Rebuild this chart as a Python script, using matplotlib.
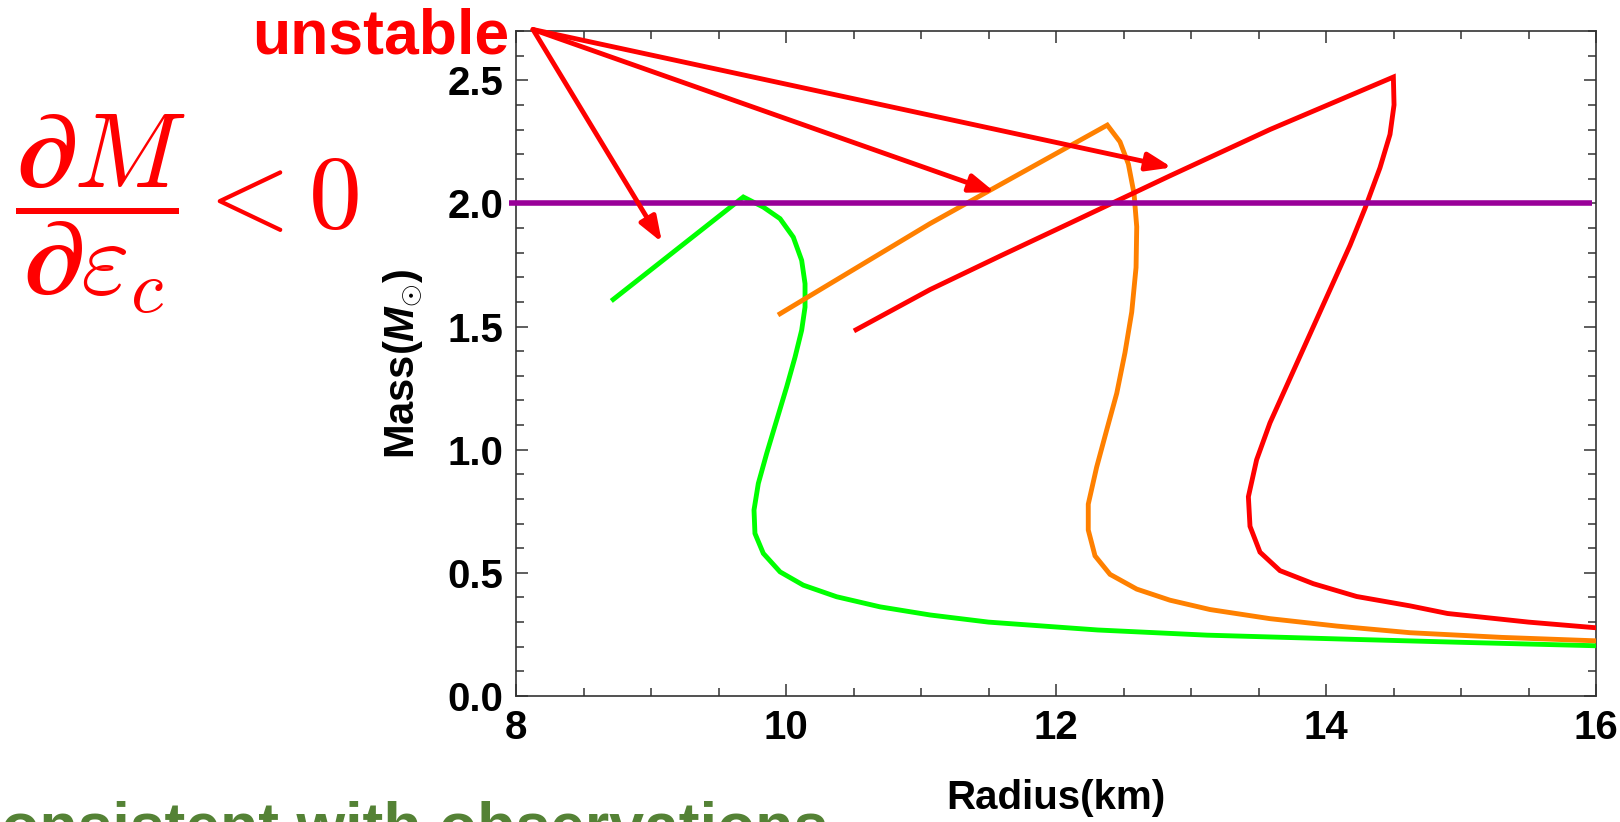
import matplotlib
matplotlib.use('Agg')
import matplotlib.pyplot as plt
from matplotlib.ticker import MultipleLocator, FormatStrFormatter

# ---------------- data ----------------
green_R = [8.72, 9.684, 9.832, 9.956, 10.054, 10.116, 10.141, 10.141, 10.116, 10.067, 10.005,
           9.931, 9.857, 9.795, 9.763, 9.770, 9.832, 9.956, 10.128, 10.375, 10.696, 11.067,
           11.50, 12.31, 13.12, 14.2, 15.0, 16.0]
green_M = [1.61, 2.026, 1.985, 1.938, 1.863, 1.769, 1.674, 1.579, 1.485, 1.376, 1.255,
           1.120, 0.985, 0.863, 0.755, 0.660, 0.579, 0.504, 0.450, 0.403, 0.362, 0.329,
           0.300, 0.268, 0.247, 0.230, 0.218, 0.204]

orange_R = [9.956, 11.067, 12.380, 12.474, 12.536, 12.578, 12.598, 12.593, 12.561, 12.511,
            12.450, 12.375, 12.301, 12.239, 12.239, 12.289, 12.400, 12.598, 12.844, 13.141,
            13.585, 14.079, 14.622, 15.3, 16.0]
orange_M = [1.552, 1.918, 2.318, 2.250, 2.160, 2.040, 1.905, 1.740, 1.559, 1.394,
            1.229, 1.079, 0.929, 0.779, 0.674, 0.569, 0.494, 0.434, 0.389, 0.351,
            0.314, 0.284, 0.257, 0.238, 0.224]

red_R = [10.519, 11.067, 11.60, 12.104, 12.844, 13.585, 14.499, 14.504, 14.474, 14.400,
         14.289, 14.178, 14.030, 13.881, 13.733, 13.585, 13.486, 13.425, 13.437, 13.511,
         13.659, 13.906, 14.227, 14.622, 14.90, 15.5, 16.0]
red_M = [1.487, 1.650, 1.790, 1.920, 2.112, 2.300, 2.513, 2.400, 2.280, 2.145,
         1.980, 1.830, 1.650, 1.469, 1.289, 1.109, 0.959, 0.809, 0.689, 0.584,
         0.509, 0.456, 0.404, 0.366, 0.335, 0.300, 0.277]

limit_R = [7.95, 15.97]
limit_M = 2.0

arrow_origin = (8.126, 2.706)
arrow_heads_R = [9.081, 11.548, 12.859]
arrow_heads_M = [1.842, 2.045, 2.146]

x_ticks = [8, 10, 12, 14, 16]
y_ticks = [0.0, 0.5, 1.0, 1.5, 2.0, 2.5]

# ---------------- style ----------------
plt.rcParams['font.family'] = ['Liberation Sans', 'DejaVu Sans']
plt.rcParams['font.weight'] = 'bold'
plt.rcParams['mathtext.fontset'] = 'custom'
plt.rcParams['mathtext.rm'] = 'Liberation Sans:bold'
plt.rcParams['mathtext.it'] = 'Liberation Sans:bold:italic'
plt.rcParams['mathtext.bf'] = 'Liberation Sans:bold'
plt.rcParams['mathtext.fallback'] = 'cm'

W, H = 1620, 822
fig = plt.figure(figsize=(W / 100, H / 100), dpi=100)
ax = fig.add_axes([516 / W, 126 / H, 1080 / W, 665 / H])

ax.plot(green_R, green_M, color='#00ff00', lw=3.5, solid_joinstyle='miter', zorder=3)
ax.plot(orange_R, orange_M, color='#ff8000', lw=3.5, solid_joinstyle='miter', zorder=3)
ax.plot(red_R, red_M, color='#ff0000', lw=3.5, solid_joinstyle='miter', zorder=3)
ax.plot(limit_R, [limit_M, limit_M], color='#990099', lw=4.0, clip_on=False, zorder=4,
        solid_capstyle='butt')

ax.set_xlim(8, 16)
ax.set_ylim(0, 2.7)
ax.set_xticks(x_ticks)
ax.set_yticks(y_ticks)
ax.xaxis.set_minor_locator(MultipleLocator(0.5))
ax.yaxis.set_minor_locator(MultipleLocator(0.1))
ax.xaxis.set_major_formatter(FormatStrFormatter('%d'))
ax.yaxis.set_major_formatter(FormatStrFormatter('%.1f'))

ax.tick_params(which='both', direction='in', top=True, right=True, color='#333333', width=1.1)
ax.tick_params(which='major', length=8.6, labelsize=29, pad=9)
ax.tick_params(which='minor', length=5.8)
for lab in ax.get_xticklabels() + ax.get_yticklabels():
    lab.set_fontweight('bold')
for sp in ax.spines.values():
    sp.set_color('#333333')
    sp.set_linewidth(1.2)

ax.set_ylabel(r'Mass($M_{\odot}$)', fontsize=30, fontweight='bold')
ax.yaxis.set_label_coords(-0.084, 0.5)
ax.set_xlabel('Radius(km)', fontsize=29, fontweight='bold')
ax.xaxis.set_label_coords(0.5, -0.125)

for hr, hm in zip(arrow_heads_R, arrow_heads_M):
    ax.annotate('', xy=(hr, hm), xytext=arrow_origin, xycoords='data',
                arrowprops=dict(arrowstyle='-|>,head_length=1.5,head_width=0.55', color='red',
                                lw=3.5, shrinkA=0, shrinkB=0, mutation_scale=10),
                annotation_clip=False, zorder=6)

fig.text(509 / W, (H - 53) / H, 'unstable', fontsize=45, color='red', fontweight='bold',
         ha='right', va='baseline')
fig.text(15 / W, (H - 215) / H, r'$\dfrac{\partial M}{\partial \varepsilon_c} < 0$',
         fontsize=76, color='red', math_fontfamily='cm', ha='left', va='center')
fig.text(-44 / W, (H - 846) / H, 'Consistent with observations', fontsize=45,
         color='#548235', fontweight='bold', ha='left', va='baseline')

fig.savefig('out.png', dpi=100)
